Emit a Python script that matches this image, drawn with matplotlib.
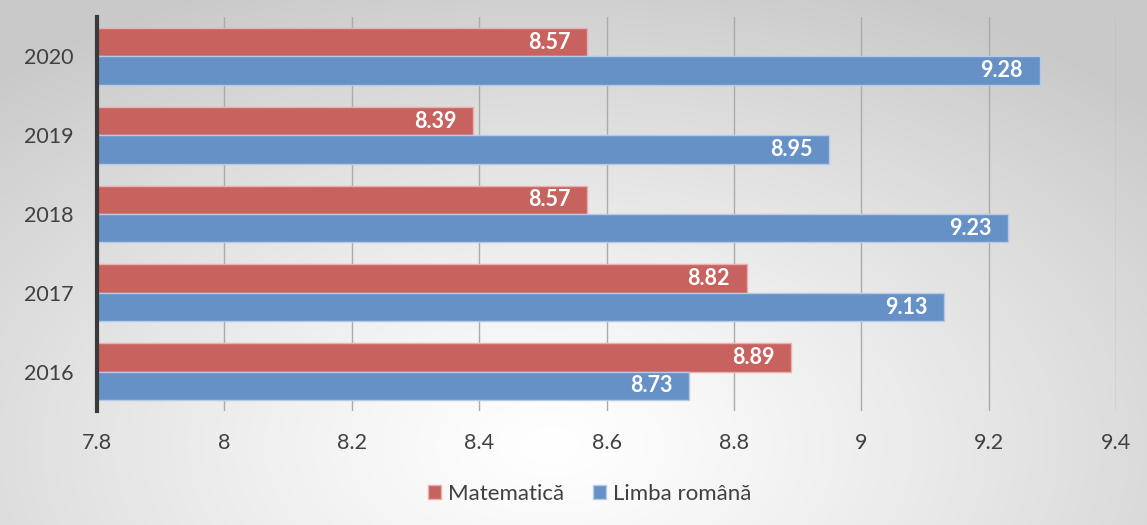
import numpy as np
import matplotlib
matplotlib.use('Agg')
import matplotlib.pyplot as plt
from matplotlib.patches import Patch

years = ['2016', '2017', '2018', '2019', '2020']
matematica = [8.89, 8.82, 8.57, 8.39, 8.57]
romana = [8.73, 9.13, 9.23, 8.95, 9.28]
x_ticks = [7.8, 8, 8.2, 8.4, 8.6, 8.8, 9, 9.2, 9.4]

red = '#c8625f'
blue = '#6591c6'
txt = '#404040'

plt.rcParams['font.family'] = ['Lato', 'DejaVu Sans']

fig = plt.figure(figsize=(11.47, 5.25), dpi=100)

# background: soft radial gradient, light in the lower middle, grey at the edges
bg = fig.add_axes([0, 0, 1, 1], zorder=0)
gx, gy = np.meshgrid(np.linspace(0, 1, 400), np.linspace(0, 1, 200))
d = np.sqrt(((gx - 0.48) / 0.72) ** 2 + ((gy - 0.15) / 0.95) ** 2)
shade = 1.0 - 0.21 * np.clip(d, 0, 1) ** 1.2
bg.imshow(np.dstack([shade] * 3), origin='lower', extent=[0, 1, 0, 1], aspect='auto')
bg.axis('off')

ax = fig.add_axes([0.0846, 0.217, 0.973 - 0.0846, 0.9676 - 0.217], zorder=1)
ax.patch.set_alpha(0)

y = np.arange(len(years))
h = 0.36
b1 = ax.barh(y + h / 2, matematica, height=h, left=0, color=red,
             edgecolor='#e8b0ae', linewidth=1, zorder=3)
b2 = ax.barh(y - h / 2, romana, height=h, left=0, color=blue,
             edgecolor='#b4cbe8', linewidth=1, zorder=3)

for bars, vals in [(b1, matematica), (b2, romana)]:
    for bar, v in zip(bars, vals):
        ax.text(v - 0.026, bar.get_y() + bar.get_height() / 2, f'{v:.2f}',
                ha='right', va='center', color='white', fontsize=15.5,
                fontweight='bold', zorder=4)

ax.set_xlim(7.8, 9.4)
ax.set_ylim(-0.5, len(years) - 0.5)
ax.set_xticks(x_ticks)
ax.set_xticklabels([f'{t:g}' for t in x_ticks])
ax.set_yticks(y)
ax.set_yticklabels(years)
ax.tick_params(axis='x', length=0, pad=16, labelsize=15.5, labelcolor=txt)
ax.tick_params(axis='y', length=0, pad=17, labelsize=15.5, labelcolor=txt)
ax.grid(axis='x', color='#ababab', linewidth=1, zorder=1)
ax.set_axisbelow(True)
for s in ['top', 'right', 'bottom']:
    ax.spines[s].set_visible(False)
ax.spines['left'].set_color('#3a3a3a')
ax.spines['left'].set_linewidth(3)
ax.spines['left'].set_zorder(5)

handles = [Patch(facecolor=red, edgecolor='#e8b0ae', label='Matematică'),
           Patch(facecolor=blue, edgecolor='#b4cbe8', label='Limba română')]
fig.legend(handles=handles, loc='center', bbox_to_anchor=(0.514, 0.06), ncol=2,
           frameon=False, fontsize=16, labelcolor=txt, handlelength=0.6,
           handleheight=0.6, handletextpad=0.3, columnspacing=1.3)

fig.savefig('out.png', dpi=100)
